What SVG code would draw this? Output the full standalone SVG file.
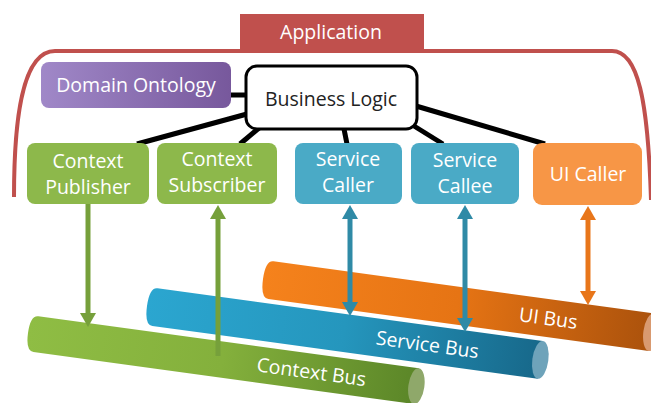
<svg xmlns="http://www.w3.org/2000/svg" width="651" height="403" viewBox="0 0 651 403">
<defs>
<style>
.lbl{font-family:"Open Sans","Liberation Sans",sans-serif;font-size:19.5px;fill:#fff;text-anchor:middle}
.blk{fill:#222}
.conn{stroke:#000;stroke-width:5;fill:none}
.arr{stroke-width:5;fill:none}
</style>
<linearGradient id="gPurple" x1="0" y1="0" x2="1" y2="0"><stop offset="0" stop-color="#a088c8"/><stop offset="1" stop-color="#77589c"/></linearGradient>
<linearGradient id="gCtx" x1="0" y1="0" x2="1" y2="0"><stop offset="0" stop-color="#8fbd44"/><stop offset="0.5" stop-color="#84b03c"/><stop offset="1" stop-color="#5b8628"/></linearGradient>
<linearGradient id="gSvc" x1="0" y1="0" x2="1" y2="0"><stop offset="0" stop-color="#2ba6d0"/><stop offset="0.5" stop-color="#2596bd"/><stop offset="1" stop-color="#17688a"/></linearGradient>
<linearGradient id="gUi" x1="0" y1="0" x2="1" y2="0"><stop offset="0" stop-color="#f5821c"/><stop offset="0.5" stop-color="#e67414"/><stop offset="1" stop-color="#ab520c"/></linearGradient>
<marker id="mG" viewBox="0 0 14 16" refX="6" refY="8" markerWidth="14" markerHeight="16" markerUnits="userSpaceOnUse" orient="auto-start-reverse"><path d="M0,0 L14,8 L0,16 Z" fill="#76a03b"/></marker>
<marker id="mB" viewBox="0 0 14 16" refX="6" refY="8" markerWidth="14" markerHeight="16" markerUnits="userSpaceOnUse" orient="auto-start-reverse"><path d="M0,0 L14,8 L0,16 Z" fill="#2f8aa6"/></marker>
<marker id="mO" viewBox="0 0 14 16" refX="6" refY="8" markerWidth="14" markerHeight="16" markerUnits="userSpaceOnUse" orient="auto-start-reverse"><path d="M0,0 L14,8 L0,16 Z" fill="#e8761a"/></marker>
</defs>
<rect width="651" height="403" fill="#fff"/>

<g id="application">
<path d="M14,197 C14,120 22,51 55,51 L612,51 C638,51 648,100 651,200" fill="none" stroke="#c0504d" stroke-width="4"/>
<rect x="240" y="14" width="184" height="37" fill="#c0504d"/>
<text class="lbl" x="331" y="39">Application</text>
</g>

<g id="ui-bus" transform="translate(263,279) rotate(7.8)">
<path d="M8,-19 L392,-19 L392,19 L8,19 Q0,19 0,0 Q0,-19 8,-19 Z" fill="url(#gUi)"/>
<ellipse cx="392" cy="0" rx="8" ry="19" fill="#d99a70"/>
<text class="lbl" x="288" y="7">UI Bus</text>
</g>
<g id="service-bus" transform="translate(147,306) rotate(7.8)">
<path d="M8,-19 L397,-19 L397,19 L8,19 Q0,19 0,0 Q0,-19 8,-19 Z" fill="url(#gSvc)"/>
<ellipse cx="397" cy="0" rx="8" ry="19" fill="#6ea3ba"/>
<text class="lbl" x="283" y="7">Service Bus</text>
</g>
<g id="context-bus" transform="translate(28,333) rotate(7.8)">
<path d="M8,-18 L392,-18 L392,18 L8,18 Q0,18 0,0 Q0,-18 8,-18 Z" fill="url(#gCtx)"/>
<ellipse cx="392" cy="0" rx="8" ry="18" fill="#8fa86a"/>
<text class="lbl" x="286" y="7">Context Bus</text>
</g>

<g id="connectors">
<line class="conn" x1="231" y1="95" x2="247" y2="95"/>
<line class="conn" x1="247" y1="114" x2="137" y2="144"/>
<line class="conn" x1="259" y1="128" x2="240" y2="144"/>
<line class="conn" x1="344" y1="129" x2="347" y2="144"/>
<line class="conn" x1="414" y1="126" x2="443" y2="144"/>
<line class="conn" x1="416" y1="106" x2="545" y2="144"/>
<line class="arr" stroke="#76a03b" x1="88" y1="204" x2="88" y2="319" marker-end="url(#mG)"/>
<line class="arr" stroke="#76a03b" x1="218" y1="356" x2="218" y2="213" marker-end="url(#mG)"/>
<line class="arr" stroke="#2f8aa6" x1="350" y1="213" x2="350" y2="308" marker-start="url(#mB)" marker-end="url(#mB)"/>
<line class="arr" stroke="#2f8aa6" x1="465" y1="213" x2="465" y2="324" marker-start="url(#mB)" marker-end="url(#mB)"/>
<line class="arr" stroke="#e8761a" x1="588" y1="214" x2="588" y2="297" marker-start="url(#mO)" marker-end="url(#mO)"/>
</g>

<g id="domain-ontology">
<rect x="41" y="62" width="190" height="46" rx="8" fill="url(#gPurple)"/>
<text class="lbl" x="136" y="92">Domain Ontology</text>
</g>
<g id="business-logic">
<rect x="246" y="66" width="171" height="63" rx="11" fill="#fff" stroke="#000" stroke-width="3"/>
<text class="lbl blk" x="331" y="106">Business Logic</text>
</g>
<g id="context-publisher">
<rect x="27" y="143" width="122" height="61" rx="8" fill="#8db84b"/>
<text class="lbl" x="88" y="168">Context</text>
<text class="lbl" x="88" y="194">Publisher</text>
</g>
<g id="context-subscriber">
<rect x="157" y="143" width="120" height="61" rx="8" fill="#8db84b"/>
<text class="lbl" x="217" y="166">Context</text>
<text class="lbl" x="217" y="192">Subscriber</text>
</g>
<g id="service-caller">
<rect x="295" y="143" width="107" height="61" rx="8" fill="#4aaac6"/>
<text class="lbl" x="348" y="166">Service</text>
<text class="lbl" x="348" y="192">Caller</text>
</g>
<g id="service-callee">
<rect x="411" y="143" width="108" height="61" rx="8" fill="#4aaac6"/>
<text class="lbl" x="465" y="167">Service</text>
<text class="lbl" x="465" y="193">Callee</text>
</g>
<g id="ui-caller">
<rect x="533" y="143" width="109" height="62" rx="9" fill="#f79646"/>
<text class="lbl" x="588" y="181">UI Caller</text>
</g>
</svg>
